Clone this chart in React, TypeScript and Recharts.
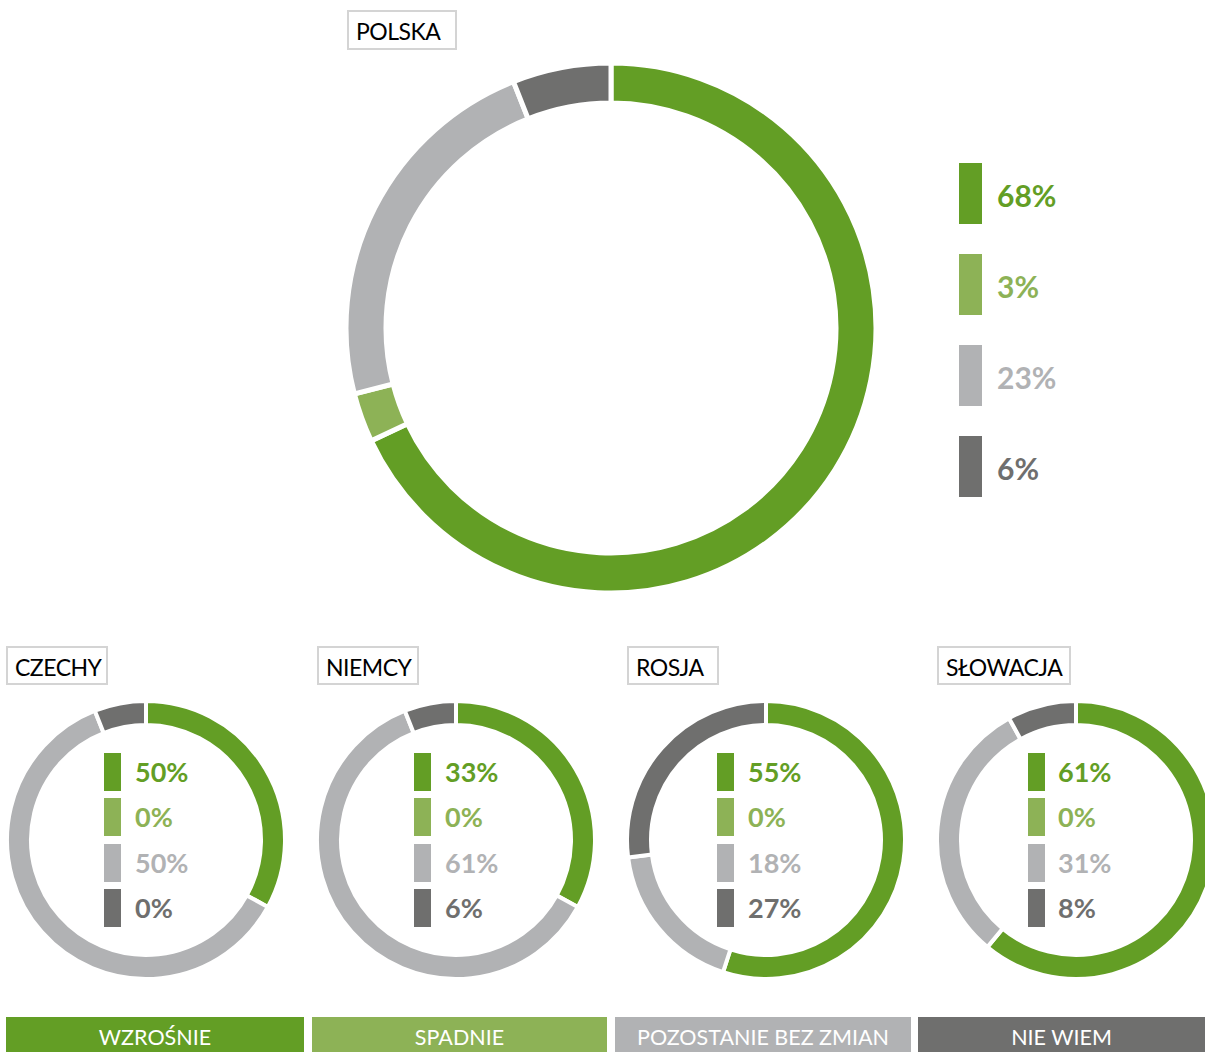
import React from 'react';
import { PieChart, Pie, Cell } from 'recharts';

const categories = ['WZROŚNIE', 'SPADNIE', 'POZOSTANIE BEZ ZMIAN', 'NIE WIEM'];
const colors = ['#639E25', '#8DB256', '#B1B2B4', '#6F6F6E'];

const polskaValues = [68, 3, 23, 6];
const polskaLabels = ['68%', '3%', '23%', '6%'];

const countries = ['CZECHY', 'NIEMCY', 'ROSJA', 'SŁOWACJA'];
// values as drawn in the rings
const czechyValues = [33, 0, 61, 6];
const niemcyValues = [33, 0, 61, 6];
const rosjaValues = [55, 0, 18, 27];
const slowacjaValues = [61, 0, 31, 8];
// values as printed in the legends
const czechyLabels = ['50%', '0%', '50%', '0%'];
const niemcyLabels = ['33%', '0%', '61%', '6%'];
const rosjaLabels = ['55%', '0%', '18%', '27%'];
const slowacjaLabels = ['61%', '0%', '31%', '8%'];

const smallValues = [czechyValues, niemcyValues, rosjaValues, slowacjaValues];
const smallLabels = [czechyLabels, niemcyLabels, rosjaLabels, slowacjaLabels];

const toData = (vals: number[]) => vals.map((v, i) => ({ name: categories[i], value: v }));

const FONT = 'Lato, "Open Sans", sans-serif';

const TitleBox = ({ x, y, w, h, baseline, text }: { x: number; y: number; w: number; h: number; baseline: number; text: string }) => (
  <>
    <div
      style={{
        position: 'absolute',
        left: x,
        top: y,
        width: w,
        height: h,
        boxSizing: 'border-box',
        border: '2px solid #D4D4D4',
        background: '#fff',
      }}
    />
    <div
      style={{
        position: 'absolute',
        left: x + 9,
        top: baseline - 23,
        fontFamily: FONT,
        fontSize: 23,
        color: '#000',
        lineHeight: '28px',
        letterSpacing: -0.5,
        whiteSpace: 'nowrap',
      }}
    >
      {text}
    </div>
  </>
);

export default function App() {
  const smallCx = [146, 456, 766, 1076];
  const smallCy = 840;
  const legendRectX = [104, 414, 717, 1028];
  const legendTextX = [135, 445, 748, 1058];
  return (
    <div style={{ position: 'absolute', left: 0, top: 0, width: 1205, height: 1052, background: '#fff', overflow: 'hidden' }}>
      <PieChart
        width={1205}
        height={1052}
        margin={{ top: 0, right: 0, bottom: 0, left: 0 }}
        style={{ position: 'absolute', left: 0, top: 0 }}
      >
        <Pie
          data={toData(polskaValues)}
          dataKey="value"
          cx={611}
          cy={328}
          startAngle={90}
          endAngle={-270}
          innerRadius={225}
          outerRadius={265}
          stroke="#fff"
          strokeWidth={5}
          isAnimationActive={false}
        >
          {polskaValues.map((_, i) => (
            <Cell key={i} fill={colors[i]} />
          ))}
        </Pie>
        {smallValues.map((vals, k) => (
          <Pie
            key={k}
            data={toData(vals)}
            dataKey="value"
            cx={smallCx[k]}
            cy={smallCy}
            startAngle={90}
            endAngle={-270}
            innerRadius={115}
            outerRadius={139}
            stroke="#fff"
            strokeWidth={4}
            isAnimationActive={false}
          >
            {vals.map((_, i) => (
              <Cell key={i} fill={colors[i]} />
            ))}
          </Pie>
        ))}
      </PieChart>

      <TitleBox x={347} y={10} w={110} h={40} baseline={40} text="POLSKA" />
      {countries.map((c, k) => (
        <TitleBox key={c} x={[6, 317, 627, 937][k]} y={646} w={[102, 102, 92, 134][k]} h={39} baseline={676} text={c} />
      ))}

      {polskaLabels.map((t, i) => (
        <React.Fragment key={i}>
          <div style={{ position: 'absolute', left: 959, top: 163 + i * 91, width: 23, height: 61, background: colors[i] }} />
          <div
            style={{
              position: 'absolute',
              left: 997,
              top: 177 + i * 91,
              fontFamily: FONT,
              fontWeight: 700,
              fontSize: 30,
              lineHeight: '36px',
              color: colors[i],
              whiteSpace: 'nowrap',
            }}
          >
            {t}
          </div>
        </React.Fragment>
      ))}

      {smallLabels.map((labels, k) =>
        labels.map((t, i) => (
          <React.Fragment key={k + '-' + i}>
            <div
              style={{ position: 'absolute', left: legendRectX[k], top: 753 + i * 45.3, width: 17, height: 38, background: colors[i] }}
            />
            <div
              style={{
                position: 'absolute',
                left: legendTextX[k],
                top: 756 + i * 45.3,
                fontFamily: FONT,
                fontWeight: 700,
                fontSize: 27,
                lineHeight: '32px',
                color: colors[i],
                whiteSpace: 'nowrap',
              }}
            >
              {t}
            </div>
          </React.Fragment>
        ))
      )}

      {categories.map((c, i) => {
        const lefts = [6, 312, 615, 918];
        const rights = [304, 607, 911, 1205];
        return (
          <div
            key={c}
            style={{
              position: 'absolute',
              left: lefts[i],
              top: 1017,
              width: rights[i] - lefts[i],
              height: 40,
              background: colors[i],
              color: '#fff',
              fontFamily: FONT,
              fontSize: 21.5,
              lineHeight: '40px',
              textAlign: 'center',
              whiteSpace: 'nowrap',
            }}
          >
            {c}
          </div>
        );
      })}
    </div>
  );
}
